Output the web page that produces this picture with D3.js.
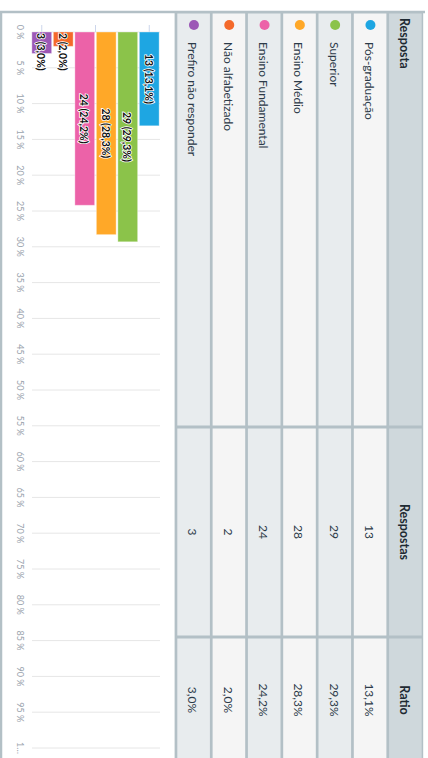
<!DOCTYPE html>
<html><head><meta charset="utf-8">
<script src="https://cdn.jsdelivr.net/npm/d3@7/dist/d3.min.js"></script>
<style>html,body{margin:0;padding:0;background:#fff;overflow:hidden}svg{display:block;font-family:Lato,"Open Sans",sans-serif}</style>
</head><body>
<script>
// ---- data ----
const categories = ["Pós-graduação","Superior","Ensino Médio","Ensino Fundamental","Não alfabetizado","Prefiro não responder"];
const responses = [13, 29, 28, 24, 2, 3];
const ratios = [13.1, 29.3, 28.3, 24.2, 2.0, 3.0];
const colors = ["#1ea6e2","#8bc34a","#ffa828","#ec62a8","#f4692a","#9c58b6"];
const headers = ["Resposta","Respostas","Ratio"];
const tickValues = [0,5,10,15,20,25,30,35,40,45,50,55,60,65,70,75,80,85,90,95,100];
const tickLabels = ["0 %","5 %","10 %","15 %","20 %","25 %","30 %","35 %","40 %","45 %","50 %","55 %","60 %","65 %","70 %","75 %","80 %","85 %","90 %","95 %","1…"];

const comma = v => d3.format(".1f")(v).replace(".", ",");

const W = 428, H = 758;
const svg = d3.select("body").append("svg").attr("width", W).attr("height", H);
// rotated frame: (u,v) -> screen (428 - v, u)
const g = svg.append("g").attr("transform", `translate(${W},0) rotate(90)`);

const lineCol = "#b3c0c6";

// outer frame
g.append("line").attr("x1",12).attr("x2",12).attr("y1",3).attr("y2",428).attr("stroke",lineCol).attr("stroke-width",2.5);
g.append("line").attr("x1",12).attr("x2",780).attr("y1",427).attr("y2",427).attr("stroke",lineCol).attr("stroke-width",2.5);

// ---- table ----
const colEdges = [12, 427, 637, 780];
const rowTop = 4.8, rowH = 35.3;
const nRows = categories.length + 1;
g.append("rect").attr("x",12).attr("y",rowTop).attr("width",780).attr("height",rowH*nRows+1.5).attr("fill",lineCol);
const rowFill = i => i === 0 ? "#cfd8dc" : (i % 2 === 1 ? "#f5f5f5" : "#e8ecee");
for (let r = 0; r < nRows; r++) {
  for (let c = 0; c < 3; c++) {
    g.append("rect")
      .attr("x", colEdges[c] + 1.5)
      .attr("y", rowTop + r*rowH + 1.5)
      .attr("width", colEdges[c+1] - colEdges[c] - 3)
      .attr("height", rowH - 3 + 0.3)
      .attr("fill", rowFill(r));
  }
}
const rowMid = r => rowTop + r*rowH + rowH/2 + 0.8;
// headers
g.append("text").attr("x",18).attr("y",rowMid(0)).attr("dominant-baseline","central")
  .attr("font-size",12.5).attr("font-weight","bold").attr("fill","#1e2a33").text(headers[0]);
g.append("text").attr("x",532).attr("y",rowMid(0)).attr("dominant-baseline","central").attr("text-anchor","middle")
  .attr("font-size",12.5).attr("font-weight","bold").attr("fill","#1e2a33").text(headers[1]);
g.append("text").attr("x",700).attr("y",rowMid(0)).attr("dominant-baseline","central").attr("text-anchor","middle")
  .attr("font-size",12.5).attr("font-weight","bold").attr("fill","#1e2a33").text(headers[2]);
categories.forEach((cat, i) => {
  const y = rowMid(i+1);
  g.append("circle").attr("cx",25).attr("cy",y-1).attr("r",5).attr("fill",colors[i]);
  g.append("text").attr("x",42).attr("y",y).attr("dominant-baseline","central")
    .attr("font-size",12).attr("fill","#2c3a48").text(cat);
  g.append("text").attr("x",532).attr("y",y).attr("dominant-baseline","central").attr("text-anchor","middle")
    .attr("font-size",12).attr("fill","#2c3a48").text(responses[i]);
  g.append("text").attr("x",700).attr("y",y).attr("dominant-baseline","central").attr("text-anchor","middle")
    .attr("font-size",12).attr("fill","#2c3a48").text(comma(ratios[i]) + "%");
});

// ---- chart ----
const x = d3.scaleLinear().domain([0,100]).range([32,748]);
const y = d3.scaleBand().domain(categories).range([268,397]).paddingInner(0.08).paddingOuter(0.04);

// gridlines
g.append("g").selectAll("line").data(tickValues).join("line")
  .attr("x1", d => x(d)).attr("x2", d => x(d)).attr("y1", 268).attr("y2", 396)
  .attr("stroke", "#e6e6e6").attr("stroke-width", 1);
// value axis labels
g.append("g").selectAll("text").data(tickValues).join("text")
  .attr("x", d => x(d)).attr("y", 408).attr("text-anchor","middle").attr("dominant-baseline","central")
  .attr("font-size", 9).attr("fill", "#9aa3ad").text((d,i) => tickLabels[i]);
// category axis ticks
const catTickPos = [y(categories[0]) + y.bandwidth()/2, (y(categories[2]) + y.bandwidth() + y(categories[3]))/2, y(categories[5]) + y.bandwidth()/2];
g.append("g").selectAll("line").data(catTickPos).join("line")
  .attr("x1", 25).attr("x2", 32).attr("y1", d => d).attr("y2", d => d)
  .attr("stroke", "#ccd6eb").attr("stroke-width", 1);

// bars
g.append("g").selectAll("rect").data(categories).join("rect")
  .attr("x", x(0)).attr("y", d => y(d))
  .attr("width", (d,i) => x(ratios[i]) - x(0)).attr("height", y.bandwidth())
  .attr("fill", (d,i) => colors[i]).attr("stroke","#ffffff").attr("stroke-opacity",0.35).attr("stroke-width",1);

// bar labels
const lbl = g.append("g").selectAll("text").data(categories).join("text")
  .attr("y", d => y(d) + y.bandwidth()/2 + 0.5)
  .attr("dominant-baseline","central").attr("text-anchor","middle")
  .attr("font-size", 10.5).attr("font-weight","bold")
  .attr("fill","#111").attr("stroke","#fff").attr("stroke-width",1.6).attr("paint-order","stroke")
  .text((d,i) => `${responses[i]} (${comma(ratios[i])}%)`);
lbl.each(function(d,i){
  const w = this.getComputedTextLength();
  const cx = (x(0) + x(ratios[i]))/2;
  d3.select(this).attr("x", Math.max(cx, x(0) + 1 + w/2));
});
</script>
</body></html>
